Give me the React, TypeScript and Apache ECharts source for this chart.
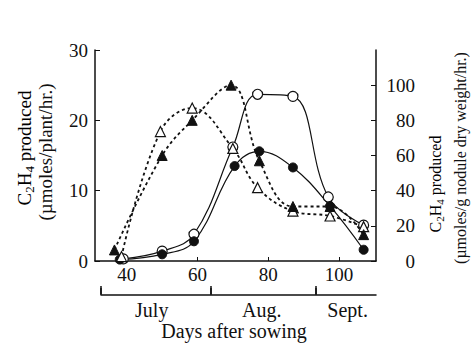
import React, { useEffect, useRef } from "react";
import * as echarts from "echarts";

// Days after sowing and values
const openCircleDays = [39, 50, 59, 70, 77, 87, 97, 107];
const openCircleVals = [0.3, 1.4, 3.8, 16.2, 23.7, 23.4, 9.1, 5.1]; // µmoles/plant/hr
const filledCircleDays = [38, 50, 59, 70.5, 77.5, 87, 97.5, 107];
const filledCircleVals = [0.2, 0.95, 2.8, 13.5, 15.6, 13.3, 7.8, 1.6]; // µmoles/plant/hr
const filledTriDays = [36.5, 50, 58.5, 69.5, 77.5, 87, 97.5, 107];
const filledTriVals = [6.3, 60, 80, 100, 57, 31, 31, 15]; // µmoles/g nodule dry wt/hr
const openTriDays = [38.5, 49.5, 58.5, 70, 77, 87, 97.5, 107];
const openTriVals = [2.5, 73.6, 87, 64, 41.7, 28.4, 25.6, 19.5]; // µmoles/g nodule dry wt/hr

const xTicks = [40, 60, 80, 100];
const leftTicks = [0, 10, 20, 30];
const rightTicks = [0, 20, 40, 60, 80, 100];
const monthBoundaries = [33, 64, 93.5];
const monthNames = ["July", "Aug.", "Sept."];
const monthLabelDays = [47.3, 78.3, 102.5];

const FONT = "'Liberation Serif', 'DejaVu Serif', serif";
const INK = "#111";

const pairs = (xs: number[], ys: number[]) => xs.map((x, i) => [x, ys[i]]);

export default function App() {
  const ref = useRef<HTMLDivElement>(null);
  useEffect(() => {
    if (!ref.current) return;
    const chart = echarts.init(ref.current, undefined, { renderer: "svg" });
    const monthMap: Record<string, string> = {};
    monthLabelDays.forEach((d, i) => (monthMap[String(d)] = monthNames[i]));
    const labelStyle = { fontFamily: FONT, fontSize: 19, color: INK };
    const mkRich = (big: number, small: number) => ({
      n: { fontFamily: FONT, fontSize: big, color: INK, lineHeight: big + 4 },
      s: { fontFamily: FONT, fontSize: small, color: INK, lineHeight: 8, verticalAlign: "bottom" },
    });
    const c2h4 = "{n|C}{s|2}{n|H}{s|4}{n| produced}";
    const lineBase = { type: "line", smooth: 0.4, showSymbol: true, z: 3 };
    chart.setOption({
      animation: false,
      backgroundColor: "#fff",
      grid: [
        { left: 95, right: 97, top: 50, bottom: 82 },
        { left: 101, right: 97, bottom: 48, height: 1 },
      ],
      xAxis: [
        {
          gridIndex: 0,
          type: "value",
          min: 31,
          max: 110.5,
          splitLine: { show: false },
          axisLine: { lineStyle: { color: INK, width: 1.5 } },
          axisTick: { inside: true, length: 4, customValues: xTicks, lineStyle: { color: INK } },
          axisLabel: { ...labelStyle, margin: 4, customValues: xTicks },
        },
        {
          gridIndex: 1,
          type: "value",
          min: 33,
          max: 110.5,
          splitLine: { show: false },
          axisLine: { lineStyle: { color: INK, width: 1.5 } },
          axisTick: { inside: true, length: 7, customValues: monthBoundaries, lineStyle: { color: INK, width: 1.5 } },
          axisLabel: {
            ...labelStyle,
            fontSize: 20,
            margin: 5,
            customValues: monthLabelDays,
            formatter: (v: number) => monthMap[String(v)] || "",
          },
        },
        {
          gridIndex: 1,
          type: "value",
          min: 33,
          max: 110.5,
          splitLine: { show: false },
          axisLine: { show: false },
          axisTick: { inside: false, length: 8, customValues: monthBoundaries, lineStyle: { color: INK, width: 1.5 } },
          axisLabel: { show: false },
        },
      ],
      yAxis: [
        {
          gridIndex: 0,
          type: "value",
          min: 0,
          max: 30,
          interval: 10,
          position: "left",
          splitLine: { show: false },
          axisLine: { show: true, lineStyle: { color: INK, width: 1.5 } },
          axisTick: { show: true, inside: true, length: 5, customValues: leftTicks, lineStyle: { color: INK } },
          axisLabel: { ...labelStyle, margin: 7, customValues: leftTicks },
        },
        {
          gridIndex: 0,
          type: "value",
          min: 0,
          max: 120,
          interval: 20,
          position: "right",
          splitLine: { show: false },
          axisLine: { show: true, lineStyle: { color: INK, width: 1.5 } },
          axisTick: { show: true, inside: true, length: 5, customValues: rightTicks, lineStyle: { color: INK } },
          axisLabel: { ...labelStyle, margin: 39, align: "right", customValues: rightTicks },
        },
        { gridIndex: 1, type: "value", min: 0, max: 1, show: false },
      ],
      graphic: [
        { type: "text", x: 24, y: 148, rotation: Math.PI / 2, style: { text: c2h4, rich: mkRich(19, 13), align: "center", verticalAlign: "middle" } },
        { type: "text", x: 45, y: 152, rotation: Math.PI / 2, style: { text: "(µmoles/plant/hr.)", fill: INK, fontSize: 19, fontFamily: FONT, align: "center", verticalAlign: "middle" } },
        { type: "text", x: 435, y: 184, rotation: Math.PI / 2, style: { text: c2h4, rich: mkRich(16, 11), align: "center", verticalAlign: "middle" } },
        { type: "text", x: 460, y: 158, rotation: Math.PI / 2, style: { text: "(µmoles/g nodule dry weight/hr.)", fill: INK, fontSize: 16, fontFamily: FONT, align: "center", verticalAlign: "middle" } },
        { type: "text", x: 234, y: 331, style: { text: "Days after sowing", fill: INK, fontSize: 20, fontFamily: FONT, align: "center", verticalAlign: "middle" } },
      ],
      series: [
        {
          ...lineBase,
          name: "open circle",
          xAxisIndex: 0,
          yAxisIndex: 0,
          data: pairs(openCircleDays, openCircleVals),
          symbol: "circle",
          symbolSize: 10,
          lineStyle: { color: INK, width: 1.2 },
          itemStyle: { color: "#fff", borderColor: INK, borderWidth: 1.2 },
        },
        {
          ...lineBase,
          name: "filled circle",
          xAxisIndex: 0,
          yAxisIndex: 0,
          data: pairs(filledCircleDays, filledCircleVals),
          symbol: "circle",
          symbolSize: 9,
          lineStyle: { color: INK, width: 1.2 },
          itemStyle: { color: INK, borderColor: INK, borderWidth: 1 },
        },
        {
          ...lineBase,
          name: "open triangle",
          xAxisIndex: 0,
          yAxisIndex: 1,
          data: pairs(openTriDays, openTriVals),
          symbol: "triangle",
          symbolSize: 10,
          lineStyle: { color: INK, width: 1.8, type: [3, 3] },
          itemStyle: { color: "#fff", borderColor: INK, borderWidth: 1.2 },
        },
        {
          ...lineBase,
          name: "filled triangle",
          xAxisIndex: 0,
          yAxisIndex: 1,
          data: pairs(filledTriDays, filledTriVals),
          symbol: "triangle",
          symbolSize: 10,
          lineStyle: { color: INK, width: 1.8, type: [3, 3] },
          itemStyle: { color: INK, borderColor: INK, borderWidth: 1 },
        },
      ],
    });
    return () => chart.dispose();
  }, []);
  return <div ref={ref} style={{ width: 473, height: 343, position: "fixed", left: 0, top: 0 }} />;
}
